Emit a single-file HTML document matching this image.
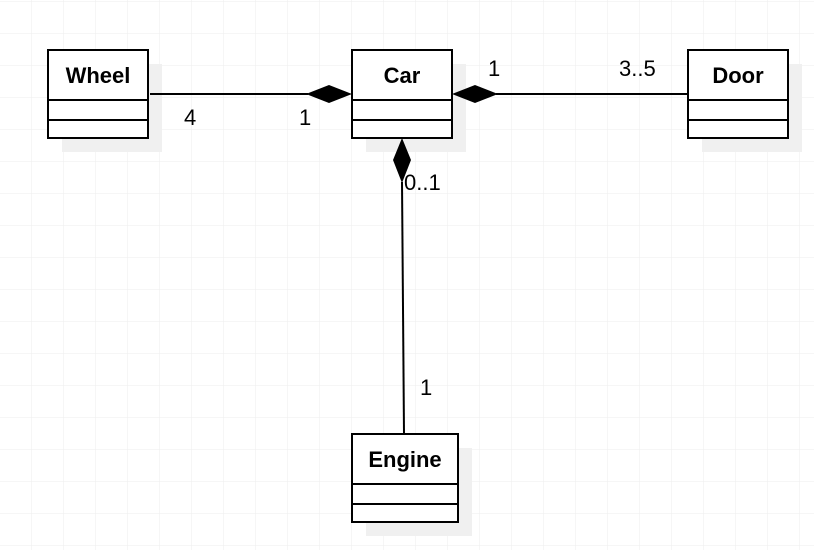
<!DOCTYPE html>
<html><head><meta charset="utf-8"><style>
html,body{margin:0;padding:0;background:#fff;}
svg{display:block;}
text{font-family:"Liberation Sans",Arial,sans-serif;}
</style></head><body>
<svg width="814" height="550" xmlns="http://www.w3.org/2000/svg">
<defs>
<pattern id="g" x="0" y="2" width="32" height="32" patternUnits="userSpaceOnUse">
<path d="M32 0V32M0 32H32" fill="none" stroke="#eeeeee" stroke-width="1"/>
</pattern>
</defs>
<rect width="814" height="550" fill="url(#g)"/>
<!-- shadows -->
<g fill="#f0f0f0">
<rect x="62" y="64" width="100" height="88"/>
<rect x="366" y="64" width="100" height="88"/>
<rect x="702" y="64" width="100" height="88"/>
<rect x="366" y="448" width="106" height="88"/>
</g>
<g fill="#fff" stroke="#000" stroke-width="2">
<rect x="48" y="50" width="100" height="88"/>
<rect x="352" y="50" width="100" height="88"/>
<rect x="688" y="50" width="100" height="88"/>
<rect x="352" y="434" width="106" height="88"/>
</g>
<g stroke="#000" stroke-width="2">
<line x1="48" y1="100" x2="148" y2="100"/><line x1="48" y1="120" x2="148" y2="120"/>
<line x1="352" y1="100" x2="452" y2="100"/><line x1="352" y1="120" x2="452" y2="120"/>
<line x1="688" y1="100" x2="788" y2="100"/><line x1="688" y1="120" x2="788" y2="120"/>
<line x1="352" y1="484" x2="458" y2="484"/><line x1="352" y1="504" x2="458" y2="504"/>
<line x1="150" y1="94" x2="308" y2="94"/>
<line x1="496" y1="94" x2="688" y2="94"/>
<line x1="402" y1="182" x2="404" y2="434"/>
</g>
<g fill="#000">
<polygon points="352,94 329,85 306,94 329,103"/>
<polygon points="452,94 475,85 498,94 475,103"/>
<polygon points="402,138 411,160 402,183 393,160"/>
</g>
<g font-weight="bold" font-size="22" text-anchor="middle">
<text x="98" y="83">Wheel</text>
<text x="402" y="83">Car</text>
<text x="738" y="83">Door</text>
<text x="405" y="467">Engine</text>
</g>
<g font-size="22">
<text x="184" y="125">4</text>
<text x="299" y="125">1</text>
<text x="488" y="76">1</text>
<text x="619" y="76">3..5</text>
<text x="404" y="190">0..1</text>
<text x="420" y="395">1</text>
</g>
</svg>
</body></html>
